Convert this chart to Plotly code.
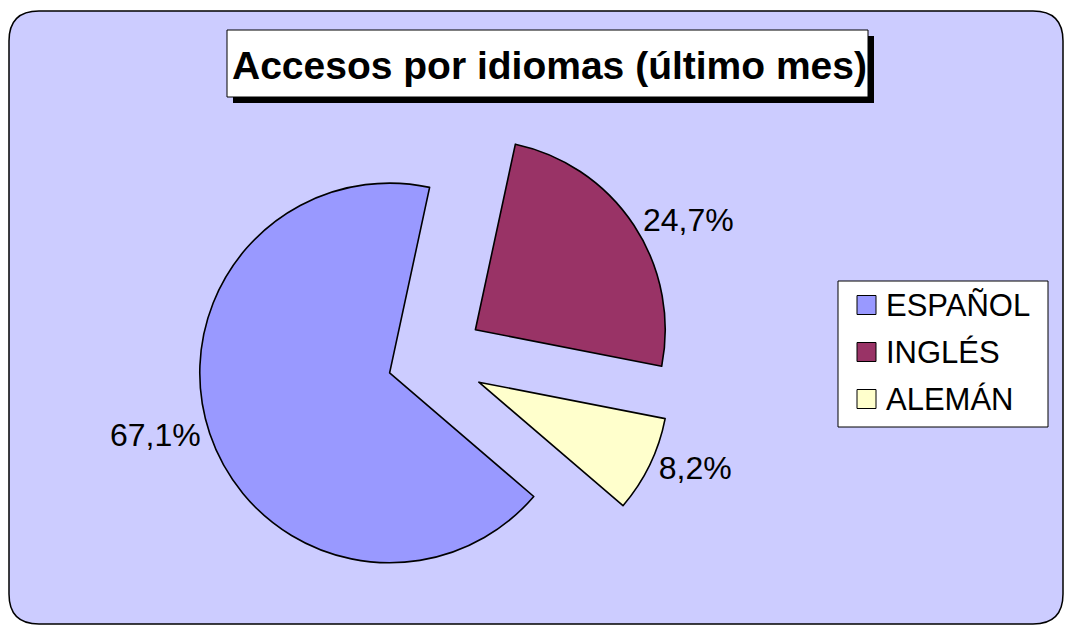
import plotly.graph_objects as go

# ---- data ----
labels = ["ESPAÑOL", "INGLÉS", "ALEMÁN"]
values = [67.1, 24.7, 8.2]
colors = ["#9999FF", "#993366", "#FFFFCC"]
pulls = [0.23, 0.28, 0.28]
title_text = "Accesos por idiomas (último mes)"

W, H = 1066, 627
FONT = "Liberation Sans, Arial, sans-serif"


def px(x):
    return x / W


def py(y):
    return 1 - y / H


fig = go.Figure()

fig.add_trace(go.Pie(
    labels=labels,
    values=values,
    marker=dict(colors=colors, line=dict(color="black", width=1.6)),
    pull=pulls,
    sort=False,
    direction="clockwise",
    rotation=130.6,
    texttemplate="%{percent:.1%}",
    textposition="outside",
    textfont=dict(family=FONT, size=32, color="black"),
    showlegend=False,
    hoverinfo="label+percent",
    domain=dict(x=[px(188), px(674)], y=[py(602), py(116)]),
))

shapes = []

# rounded chart background
L, T, R, B, r = 9, 11, 1063, 624, 30
path = (
    f"M {px(L)},{py(T + r)} "
    f"Q {px(L)},{py(T)} {px(L + r)},{py(T)} "
    f"L {px(R - r)},{py(T)} "
    f"Q {px(R)},{py(T)} {px(R)},{py(T + r)} "
    f"L {px(R)},{py(B - r)} "
    f"Q {px(R)},{py(B)} {px(R - r)},{py(B)} "
    f"L {px(L + r)},{py(B)} "
    f"Q {px(L)},{py(B)} {px(L)},{py(B - r)} Z"
)
shapes.append(dict(type="path", xref="paper", yref="paper", path=path,
                   fillcolor="#CCCCFF", line=dict(color="black", width=1.5),
                   layer="below"))

# title box with shadow
shapes.append(dict(type="rect", xref="paper", yref="paper",
                   x0=px(233), x1=px(874), y0=py(103), y1=py(36),
                   fillcolor="black", line=dict(width=0), layer="above"))
shapes.append(dict(type="rect", xref="paper", yref="paper",
                   x0=px(227), x1=px(868), y0=py(97), y1=py(30),
                   fillcolor="white", line=dict(color="black", width=1), layer="above"))

# legend box
shapes.append(dict(type="rect", xref="paper", yref="paper",
                   x0=px(838), x1=px(1048), y0=py(427), y1=py(281),
                   fillcolor="white", line=dict(color="black", width=1), layer="above"))

annotations = [dict(
    text=f"<b>{title_text}</b>", xref="paper", yref="paper",
    x=px(549), y=py(65), xanchor="center", yanchor="middle",
    showarrow=False, font=dict(family=FONT, size=39, color="black"),
)]

row_y = [305, 352, 399]
for lab, col, yy in zip(labels, colors, row_y):
    shapes.append(dict(type="rect", xref="paper", yref="paper",
                       x0=px(857), x1=px(876), y0=py(yy + 9.5), y1=py(yy - 9.5),
                       fillcolor=col, line=dict(color="black", width=1), layer="above"))
    annotations.append(dict(
        text=lab, xref="paper", yref="paper", x=px(884), y=py(yy),
        xanchor="left", yanchor="middle", showarrow=False,
        font=dict(family=FONT, size=31, color="black"),
    ))

fig.update_layout(
    width=W, height=H,
    margin=dict(l=0, r=0, t=0, b=0, pad=0, autoexpand=False),
    paper_bgcolor="white",
    plot_bgcolor="white",
    separators=",.",
    shapes=shapes,
    annotations=annotations,
    showlegend=False,
)

fig.write_html(
    "out.html",
    config={"displayModeBar": False},
    post_script="document.body.style.margin='0';document.body.style.overflow='hidden';",
)
